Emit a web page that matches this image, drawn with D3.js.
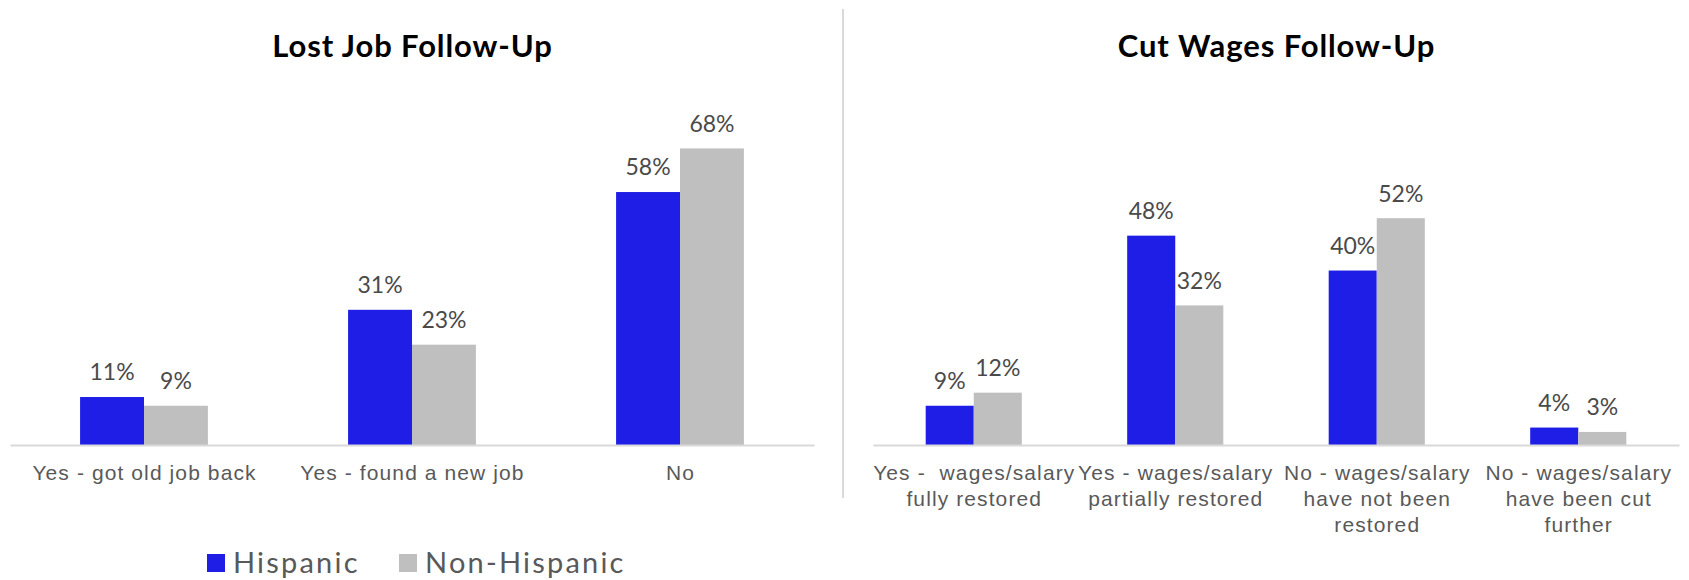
<!DOCTYPE html>
<html>
<head>
<meta charset="utf-8">
<script src="https://cdn.jsdelivr.net/npm/d3@7"></script>
<style>
  html, body { margin: 0; padding: 0; background: #ffffff; }
  svg { display: block; font-family: Lato, "Open Sans", sans-serif; }
</style>
</head>
<body>
<svg id="chart" width="1689" height="580"></svg>
<script>
// ---- data ----
const seriesNames = ["Hispanic", "Non-Hispanic"];
const seriesColors = ["#1e1ee6", "#bfbfbf"];

const lostJobTitle = "Lost Job Follow-Up";
const lostJobCategories = [
  ["Yes - got old job back"],
  ["Yes - found a new job"],
  ["No"]
];
const lostJobHispanic = [11, 31, 58];
const lostJobNonHispanic = [9, 23, 68];

const cutWagesTitle = "Cut Wages Follow-Up";
const cutWagesCategories = [
  ["Yes -  wages/salary", "fully restored"],
  ["Yes - wages/salary", "partially restored"],
  ["No - wages/salary", "have not been", "restored"],
  ["No - wages/salary", "have been cut", "further"]
];
const cutWagesHispanic = [9, 48, 40, 4];
const cutWagesNonHispanic = [12, 32, 52, 3];

// ---- drawing ----
const svg = d3.select("#chart");
svg.append("rect").attr("width", 1689).attr("height", 580).attr("fill", "#ffffff");

const baseY = 445;
const y = d3.scaleLinear().domain([0, 70]).range([baseY, baseY - 305.3]);

function drawPanel(opts) {
  const { title, categories, values, x0, x1 } = opts;
  const g = svg.append("g");
  const keys = categories.map((c, i) => i);
  const x = d3.scaleBand().domain(keys).range([x0, x1]).paddingInner(0.523).paddingOuter(0.2615);
  const xs = d3.scaleBand().domain([0, 1]).range([0, x.bandwidth()]);

  // title
  g.append("text")
    .attr("x", (x0 + x1) / 2 + 0.5)
    .attr("y", 56.5)
    .attr("text-anchor", "middle")
    .attr("font-weight", "bold")
    .attr("font-size", 31)
    .attr("letter-spacing", 0.9)
    .attr("fill", "#000000")
    .text(title);

  // bars
  keys.forEach(i => {
    [0, 1].forEach(s => {
      const v = values[s][i];
      g.append("rect")
        .attr("x", x(i) + xs(s))
        .attr("y", y(v))
        .attr("width", xs.bandwidth())
        .attr("height", baseY - y(v))
        .attr("fill", seriesColors[s]);
      g.append("text")
        .attr("x", x(i) + xs(s) + xs.bandwidth() / 2)
        .attr("y", y(v) - 16.6)
        .attr("text-anchor", "middle")
        .attr("font-size", 23)
        .attr("fill", "#4a4a4a")
        .text(v + "%");
    });
  });

  // axis
  const axis = d3.axisBottom(x).tickSize(0).tickSizeOuter(0).tickFormat(() => "");
  const ag = g.append("g").attr("transform", `translate(0,${baseY})`).call(axis);
  ag.select(".domain").attr("stroke", "#d9d9d9").attr("stroke-width", 2);
  ag.selectAll(".tick text").remove();
  ag.selectAll(".tick").each(function(d) {
    const t = d3.select(this).append("text")
      .attr("text-anchor", "middle")
      .attr("font-size", 21)
      .attr("letter-spacing", 1.1)
      .attr("fill", "#595959")
      .attr("y", 35);
    categories[d].forEach((line, li) => {
      t.append("tspan")
        .attr("x", 0.5)
        .attr("dy", li === 0 ? 0 : 26)
        .style("white-space", "pre")
        .text(line);
    });
  });
}

drawPanel({
  title: lostJobTitle,
  categories: lostJobCategories,
  values: [lostJobHispanic, lostJobNonHispanic],
  x0: 10, x1: 814
});

drawPanel({
  title: cutWagesTitle,
  categories: cutWagesCategories,
  values: [cutWagesHispanic, cutWagesNonHispanic],
  x0: 873, x1: 1679
});

// divider
svg.append("line")
  .attr("x1", 843).attr("x2", 843)
  .attr("y1", 9).attr("y2", 498)
  .attr("stroke", "#d9d9d9").attr("stroke-width", 2);

// legend
const legendX = [207, 399];
const lg = svg.append("g");
seriesNames.forEach((name, i) => {
  lg.append("rect")
    .attr("x", legendX[i]).attr("y", 554)
    .attr("width", 18).attr("height", 18)
    .attr("fill", seriesColors[i]);
  lg.append("text")
    .attr("x", legendX[i] + 26).attr("y", 572.5)
    .attr("font-size", 29)
    .attr("letter-spacing", 2.2)
    .attr("fill", "#595959")
    .text(name);
});
</script>
</body>
</html>
